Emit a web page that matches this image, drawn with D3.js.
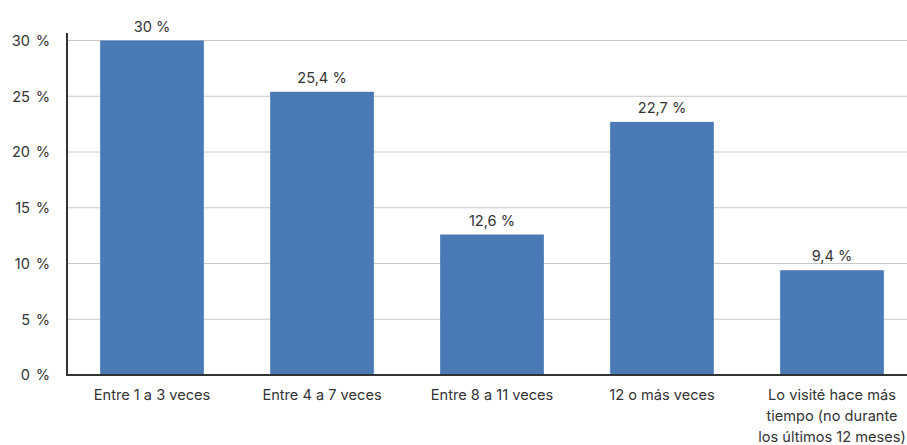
<!DOCTYPE html>
<html>
<head>
<meta charset="utf-8">
<script src="https://cdn.jsdelivr.net/npm/d3@7/dist/d3.min.js"></script>
<style>
  html, body { margin: 0; padding: 0; background: #fff; }
  svg text { font-family: Inter, "Open Sans", sans-serif; fill: #333; font-size: 14.6px; }
</style>
</head>
<body>
<svg id="chart" width="907" height="445"></svg>
<script>
// Frequency of visits (share of respondents, %)
const categories = [
  "Entre 1 a 3 veces",
  "Entre 4 a 7 veces",
  "Entre 8 a 11 veces",
  "12 o más veces",
  "Lo visité hace más\ntiempo (no durante\nlos últimos 12 meses)"
];
const values = [30, 25.4, 12.6, 22.7, 9.4];
const valueLabels = ["30 %", "25,4 %", "12,6 %", "22,7 %", "9,4 %"];
const yTicks = [0, 5, 10, 15, 20, 25, 30];

(function () {
  const svg = d3.select("#chart");
  const W = 907;
  const mLeft = 67, mRight = 917, mTop = 40.5, mBottom = 375;

  const x = d3.scaleBand().domain(categories).range([mLeft, mRight]).paddingInner(0.39).paddingOuter(0.195);
  const y = d3.scaleLinear().domain([0, 30]).range([mBottom, mTop]);

  // horizontal gridlines
  svg.append("g").selectAll("line").data(yTicks.filter(d => d > 0)).join("line")
    .attr("x1", mLeft).attr("x2", W)
    .attr("y1", d => y(d)).attr("y2", d => y(d))
    .attr("stroke", "#c8c8c8").attr("stroke-width", 1);

  // y tick labels: number and percent sign set in separate columns
  const yl = svg.append("g").selectAll("g").data(yTicks).join("g")
    .attr("transform", d => `translate(0,${y(d)})`);
  yl.append("text").attr("x", 30).attr("dy", "0.36em").attr("text-anchor", "end").text(d => d);
  yl.append("text").attr("x", 50).attr("dy", "0.36em").attr("text-anchor", "end").text("%");

  // bars
  svg.append("g").selectAll("rect").data(values).join("rect")
    .attr("x", (d, i) => x(categories[i]))
    .attr("width", x.bandwidth())
    .attr("y", d => y(d))
    .attr("height", d => mBottom - y(d))
    .attr("fill", "#4a7ab5");

  // value labels
  svg.append("g").selectAll("text").data(values).join("text")
    .attr("x", (d, i) => x(categories[i]) + x.bandwidth() / 2)
    .attr("y", d => y(d) - 9)
    .attr("text-anchor", "middle")
    .text((d, i) => valueLabels[i]);

  // axis lines
  svg.append("line").attr("x1", mLeft).attr("x2", mLeft).attr("y1", 33).attr("y2", mBottom + 1)
    .attr("stroke", "#333").attr("stroke-width", 2);
  svg.append("line").attr("x1", mLeft - 1).attr("x2", W).attr("y1", mBottom).attr("y2", mBottom)
    .attr("stroke", "#333").attr("stroke-width", 2);

  // category labels (multi-line where needed)
  const xl = svg.append("g").selectAll("text").data(categories).join("text")
    .attr("x", d => x(d) + x.bandwidth() / 2)
    .attr("y", 400)
    .attr("text-anchor", "middle");
  xl.each(function (d) {
    const t = d3.select(this);
    d.split("\n").forEach((line, i) => {
      t.append("tspan").attr("x", t.attr("x")).attr("dy", i === 0 ? 0 : 21).text(line);
    });
  });
})();
</script>
</body>
</html>
